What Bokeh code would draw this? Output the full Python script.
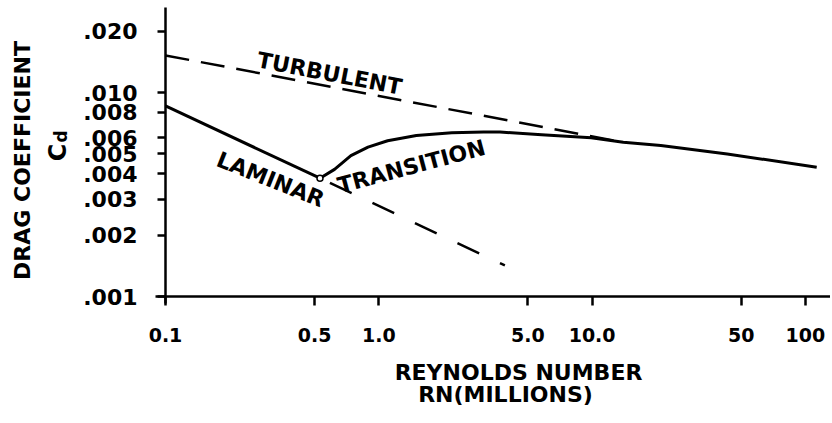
import math
from bokeh.plotting import figure
from bokeh.models import Range1d, FixedTicker, Label
from bokeh.embed import file_html
from bokeh.resources import INLINE

# ---------------- data ----------------
laminar_rn = [0.1, 0.53]
laminar_cd = [0.0086, 0.0038]

laminar_ext_rn = [0.53, 3.9]
laminar_ext_cd = [0.0038, 0.00142]

turbulent_rn = [0.1, 14.0]
turbulent_cd = [0.0152, 0.0057]

transition_rn = [0.53, 0.62, 0.74, 0.89, 1.1, 1.5, 2.2, 3.1, 3.7, 5.8, 9.9, 14.0, 21.0, 43.0, 113.0]
transition_cd = [0.0038, 0.0042, 0.0049, 0.0054, 0.0058, 0.00615, 0.00635, 0.0064, 0.0064,
                 0.0062, 0.0060, 0.0057, 0.0055, 0.0050, 0.0043]

point_rn = [0.53]
point_cd = [0.0038]

x_ticks = [0.1, 0.5, 1, 5, 10, 50, 100]
x_tick_labels = ["0.1", "0.5", "1.0", "5.0", "10.0", "50", "100"]
y_ticks = [0.001, 0.002, 0.003, 0.004, 0.005, 0.006, 0.008, 0.010, 0.020]
y_tick_labels = [".001", ".002", ".003", ".004", ".005", ".006", ".008", ".010", ".020"]

# ---------------- layout helpers (canvas pixels -> data) ----------------
FONT = "DejaVu Sans"
W, H = 830, 421
PX_X0, PX_PER_DEC_X = 165.0, 213.3   # canvas x of RN=0.1, pixels per decade
PX_Y0, PX_PER_DEC_Y = 296.0, 204.0   # canvas y of Cd=.001, pixels per decade


def xd(px):
    return 0.1 * 10 ** ((px - PX_X0) / PX_PER_DEC_X)


def yd(py):
    return 0.001 * 10 ** ((PX_Y0 - py) / PX_PER_DEC_Y)


p = figure(width=W, height=H, x_axis_type="log", y_axis_type="log",
           x_range=Range1d(xd(0), xd(W)), y_range=Range1d(yd(H), yd(0)),
           output_backend="svg", toolbar_location=None,
           min_border_left=0, min_border_right=0, min_border_top=0, min_border_bottom=0)

p.outline_line_color = None
p.xgrid.visible = False
p.ygrid.visible = False
p.background_fill_color = "white"
p.border_fill_color = "white"

for ax in (p.xaxis[0], p.yaxis[0]):
    ax.axis_line_width = 2.5
    ax.axis_line_color = "black"
    ax.major_tick_line_width = 2.5
    ax.major_tick_line_color = "black"
    ax.major_tick_in = 0
    ax.minor_tick_line_color = None
    ax.major_label_text_font = FONT
    ax.major_label_text_font_style = "bold"
    ax.major_label_text_color = "black"

# axes cross at RN = 0.1, Cd = .001
p.xaxis.fixed_location = 0.001
p.xaxis.bounds = (xd(155), xd(W))
p.xaxis.ticker = FixedTicker(ticks=x_ticks)
p.xaxis.major_label_overrides = {t: l for t, l in zip(x_ticks, x_tick_labels)}
p.xaxis.major_tick_out = 9
p.xaxis.major_label_standoff = 22
p.xaxis.major_label_text_font_size = "19px"

p.yaxis.fixed_location = 0.1
p.yaxis.bounds = (yd(303), yd(7))
p.yaxis.ticker = FixedTicker(ticks=y_ticks)
p.yaxis.major_label_overrides = {t: l for t, l in zip(y_ticks, y_tick_labels)}
p.yaxis.major_tick_out = 8
p.yaxis.major_label_standoff = 20
p.yaxis.major_label_text_font_size = "22px"

# ---------------- curves ----------------
p.line(turbulent_rn, turbulent_cd, line_color="black", line_width=2.5, line_dash="24 12")
p.line(laminar_ext_rn, laminar_ext_cd, line_color="black", line_width=2.5, line_dash="0 11 24 12")
p.line(laminar_rn, laminar_cd, line_color="black", line_width=3, line_join="round")
p.line(transition_rn, transition_cd, line_color="black", line_width=3, line_join="round")
p.scatter(point_rn, point_cd, size=6, marker="circle", fill_color="white",
          line_color="black", line_width=1.5)


def add_text(text, px, py, angle=0.0, size="22px"):
    p.add_layout(Label(x=xd(px), y=yd(py), text=text, angle=angle,
                       text_font=FONT, text_font_style="bold", text_font_size=size,
                       text_color="black", text_align="center", text_baseline="middle"))


# in-plot labels
add_text("TURBULENT", 329, 73, angle=-0.19)
add_text("LAMINAR", 270, 179, angle=-0.38)
add_text("TRANSITION", 411, 166, angle=0.26)

# axis titles
add_text("REYNOLDS NUMBER", 518, 372)
add_text("RN(MILLIONS)", 505, 394)
add_text("DRAG COEFFICIENT", 22, 160, angle=math.pi / 2)
add_text("C", 57, 152, angle=math.pi / 2, size="24px")
add_text("d", 60, 136, angle=math.pi / 2, size="17px")

open("out.html", "w").write(file_html(p, INLINE))
